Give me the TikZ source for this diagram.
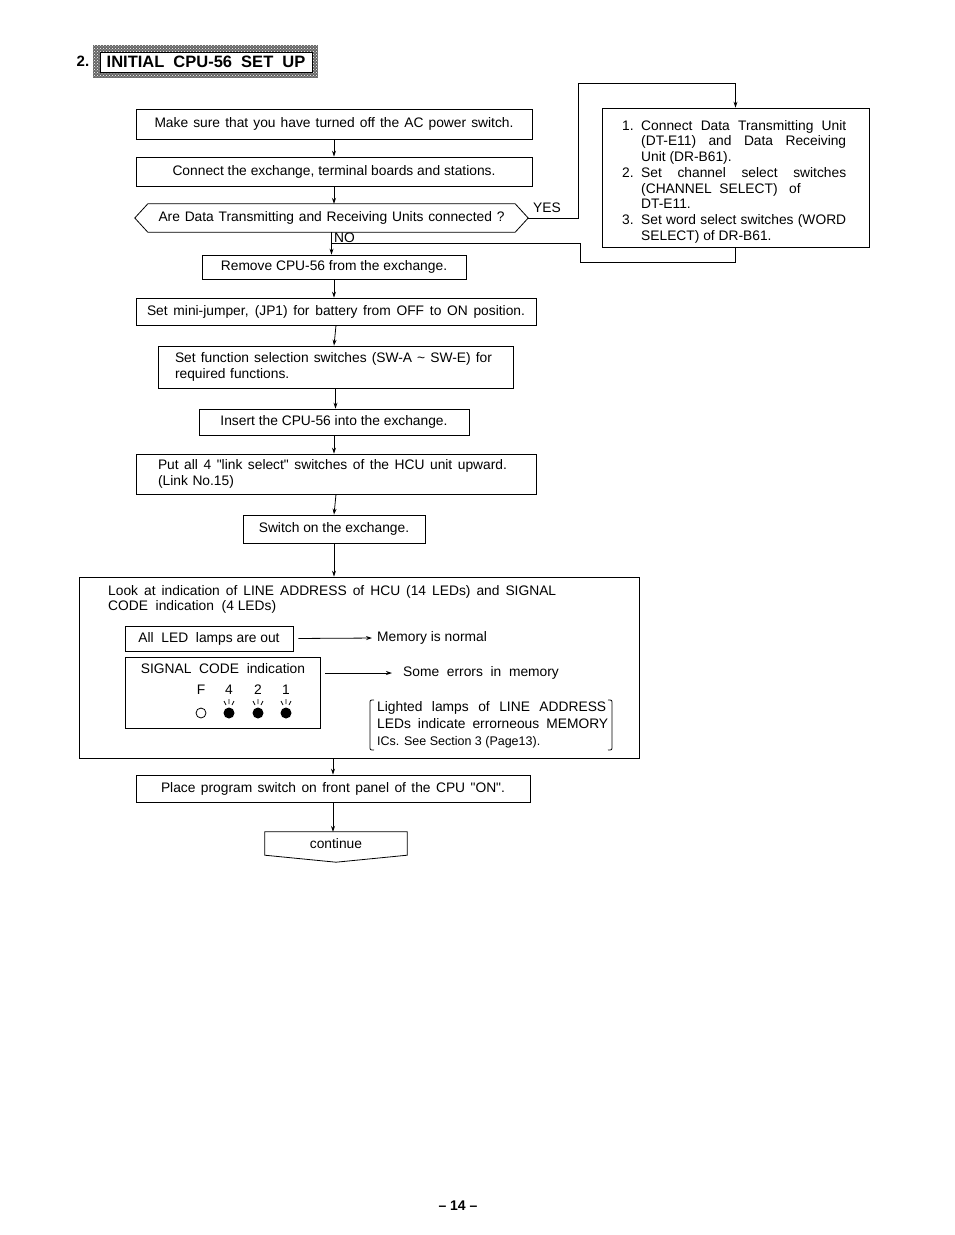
\documentclass[tikz,border=0pt]{standalone}
\usepackage{fontspec}
\setmainfont{Liberation Sans}
\usetikzlibrary{positioning,arrows.meta,patterns}

\newcommand{\jline}[2][205pt]{\makebox[#1][s]{\spaceskip=0pt\xspaceskip=0pt\relax #2}}

\tikzset{
  box/.style={draw, line width=0.8pt, inner sep=0pt},
  flow/.style={-{Stealth[length=6pt,width=4pt]}, line width=0.8pt},
  wire/.style={line width=0.8pt}
}

\begin{document}
\begin{tikzpicture}[x=1pt, y=-1pt, font=\fontsize{13.8}{15.7}\selectfont]
    \useasboundingbox (0,0) rectangle (954,1235);

    % Title
    \fill[black!60] (93,45) rectangle (318,78);
    \fill[pattern=crosshatch dots, pattern color=white] (93,45) rectangle (318,78);
    \draw[fill=white, line width=0.8pt] (100,52) rectangle (312,72);
    \node[font=\fontsize{15}{18}\selectfont\bfseries] (num) at (83,61) {2.};
    \node[font=\fontsize{16.5}{18}\selectfont\bfseries] (title) at (206,62) {INITIAL\hspace{0.55em}CPU-56\hspace{0.55em}SET\hspace{0.55em}UP};

    % Main flow
    \node[box, minimum width=396, minimum height=30] (power) at (334,124) {\jline[359pt]{Make sure that you have turned off the AC power switch.}};
    \node[box, minimum width=396, minimum height=29] (wiring) at (334,171.5) {Connect the exchange, terminal boards and stations.};
    \node[inner sep=0pt, minimum width=367, minimum height=28] (ask) at (331.5,218) {\jline[346pt]{Are Data Transmitting and Receiving Units connected ?}};
    \draw[wire] (ask.north west) -- (ask.north east) -- ([xshift=13pt]ask.east) -- (ask.south east) -- (ask.south west) -- ([xshift=-13pt]ask.west) -- cycle;
    \coordinate (yes) at ([xshift=13pt]ask.east);
    \node[box, minimum width=264, minimum height=24] (remove) at (334,267) {Remove CPU-56 from the exchange.};
    \node[box, minimum width=400, minimum height=27] (jumper) at (336,311.5) {\jline[378pt]{Set mini-jumper, (JP1) for battery from OFF to ON position.}};
    \node[box, minimum width=355, minimum height=42, text width=321pt, inner xsep=17pt, align=left] (funcsel) at (335.5,367) {\jline[317pt]{Set function selection switches (SW-A \textasciitilde{} SW-E) for}\\required functions.};
    \node[box, minimum width=270, minimum height=26] (insert) at (334,422) {Insert the CPU-56 into the exchange.};
    \node[box, minimum width=400, minimum height=40, text width=356pt, inner xsep=22pt, align=left] (linksel) at (336,474) {\jline[349pt]{Put all 4 \textquotedbl link select\textquotedbl{} switches of the HCU unit upward.}\\(Link No.15)};
    \node[box, minimum width=182, minimum height=28] (switchon) at (334,529) {Switch on the exchange.};
    \node[box, minimum width=560, minimum height=181] (leds) at (359,667.5) {};
    \node[box, minimum width=394, minimum height=27] (program) at (333,788.5) {\jline[344pt]{Place program switch on front panel of the CPU \textquotedbl ON\textquotedbl.}};
    \node[inner sep=0pt, minimum width=142, minimum height=23] (cont) at (336,843.5) {continue};
    \draw[wire] (cont.north west) -- (cont.north east) -- (cont.south east) -- ([yshift=-7pt]cont.south) -- (cont.south west) -- cycle;

    % Side box
    \node[box, minimum width=267, minimum height=139] (setup) at (735.5,177.5) {};
    \node[anchor=north west, inner sep=0pt, align=left] (steps) at (622,120) {%
      \makebox[19pt][l]{1.}\jline{Connect Data Transmitting Unit}\\
      \hspace*{19pt}\jline{(DT-E11) and Data Receiving}\\
      \hspace*{19pt}Unit (DR-B61).\\
      \makebox[19pt][l]{2.}\jline{Set channel select switches}\\
      \hspace*{19pt}(CHANNEL\ \ SELECT)\ \ \ of\\
      \hspace*{19pt}DT-E11.\\
      \makebox[19pt][l]{3.}\jline{Set word select switches (WORD}\\
      \hspace*{19pt}SELECT) of DR-B61.};

    % Connectors
    \draw[flow] (power.south) -- (power.south |- wiring.north);
    \draw[flow] (wiring.south) -- (wiring.south |- ask.north);
    \draw[flow] (yes) -| (578,83) -| (setup.north);
    \node (yeslbl) at (547,208) {YES};
    \draw[flow] (ask.south) -- (ask.south |- remove.north);
    \node[anchor=west, inner sep=1pt] (nolbl) at (333,238) {NO};
    \draw[wire] (setup.south) |- (580,262) -- (580,243) -- (ask.south |- 0,243);
    \draw[flow] (remove.south) -- (remove.south |- jumper.north);
    \draw[flow] (jumper.south) -- (remove.south |- funcsel.north);
    \draw[flow] (funcsel.south) -- (funcsel.south |- insert.north);
    \draw[flow] (insert.south) -- (insert.south |- linksel.north);
    \draw[flow] (linksel.south) -- (insert.south |- switchon.north);
    \draw[flow] (switchon.south) -- (switchon.south |- leds.north);
    \draw[flow] (leds.south -| program.north) -- (program.north);
    \draw[flow] (program.south) -- (program.south |- cont.north);

    % Memory check
    \node[anchor=north west, inner sep=0pt, align=left, font=\fontsize{13.8}{15}\selectfont] (look) at (108,585) {\jline[448pt]{Look at indication of LINE ADDRESS of HCU (14 LEDs) and SIGNAL}\\CODE\ \ indication\ \ (4 LEDs)};
    \node[box, minimum width=168, minimum height=25] (allout) at (209,638.5) {All\ \ LED\ \ lamps are out};
    \node[anchor=west, inner sep=0pt] (normal) at (377,638) {Memory is normal};
    \draw[flow, shorten <=5pt, shorten >=5pt] (allout.east) -- (normal.west);
    \node[box, minimum width=195, minimum height=71] (sigcode) at (222.5,692.5) {};
    \node (sigtext) at (223,669) {SIGNAL\ \ CODE\ \ indication};
    \node[anchor=west, inner sep=0pt] (errors) at (403,673) {Some\ \ errors\ \ in\ \ memory};
    \draw[flow, shorten <=5pt, shorten >=11pt] (sigcode.east |- errors.west) -- (errors.west);
    \foreach \x/\c in {201/F, 229/4, 258/2, 286/1}
      \node (bit\c) at (\x,690) {\c};
    \draw[line width=0.8pt] (201,713) circle (5pt);
    \foreach \x in {229,258,286} {
      \fill (\x,713) circle (5.5pt);
      \draw[line width=0.7pt] (\x,699) -- (\x,704) (\x-5,701) -- (\x-3,705) (\x+5,701) -- (\x+3,705);
    }
    \draw[wire] (374,700) .. controls (370,700) .. (370,704) -- (370,746) .. controls (370,750) .. (374,750);
    \draw[wire] (608,700) .. controls (612,700) .. (612,704) -- (612,746) .. controls (612,750) .. (608,750);
    \node[anchor=north west, inner sep=0pt, align=left, font=\fontsize{13.8}{17}\selectfont] (lamps) at (377,701) {\jline[229pt]{Lighted lamps of LINE ADDRESS}\\\jline[231pt]{LEDs indicate errorneous MEMORY}\\{\fontsize{12.5}{17}\selectfont ICs. See Section 3 (Page13).}};

    % Page number
    \node[font=\fontsize{14}{16}\selectfont\bfseries] (page) at (458,1206) {\textendash{} 14 \textendash};
\end{tikzpicture}
\end{document}
